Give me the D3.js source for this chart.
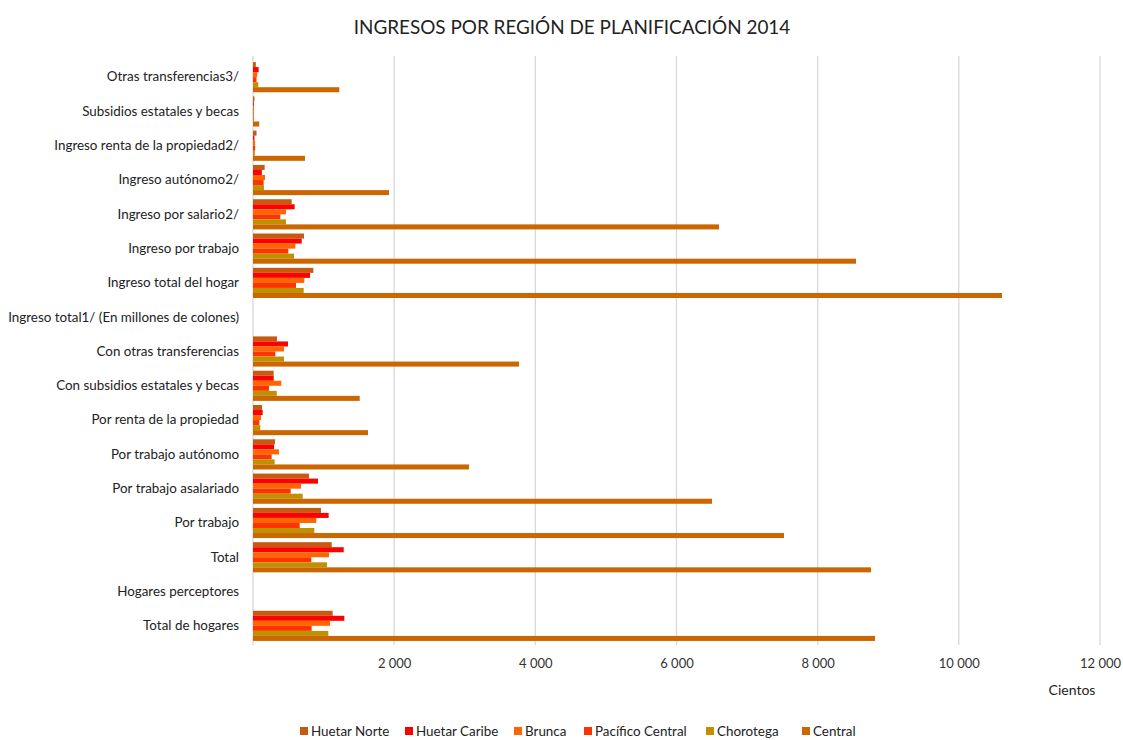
<!DOCTYPE html>
<html>
<head>
<meta charset="utf-8">
<script src="https://cdn.jsdelivr.net/npm/d3@7"></script>
<style>
  body { margin: 0; background: #fff; }
  svg text { font-family: Lato, "Open Sans", sans-serif; fill: #222; }
</style>
</head>
<body>
<svg id="chart" width="1123" height="740"></svg>
<script>
// Categories, top to bottom
const categories = [
  "Otras transferencias3/",
  "Subsidios estatales y becas",
  "Ingreso renta de la propiedad2/",
  "Ingreso autónomo2/",
  "Ingreso por salario2/",
  "Ingreso por trabajo",
  "Ingreso total del hogar",
  "Ingreso total1/ (En millones de colones)",
  "Con otras transferencias",
  "Con subsidios estatales y becas",
  "Por renta de la propiedad",
  "Por trabajo autónomo",
  "Por trabajo asalariado",
  "Por trabajo",
  "Total",
  "Hogares perceptores",
  "Total de hogares"
];
const seriesNames = ["Huetar Norte", "Huetar Caribe", "Brunca", "Pacífico Central", "Chorotega", "Central"];
const seriesColors = ["#C55A11", "#FF0000", "#FF6600", "#FF3300", "#BF9000", "#CC6600"];

// Values (cientos), same order as categories
const huetarNorte     = [40, 20, 50, 165, 548, 723, 855, null, 340, 293, 128, 312, 793, 963, 1115, null, 1129];
const huetarCaribe    = [80, 12, 20, 125, 590, 690, 808, null, 496, 293, 137, 298, 921, 1072, 1285, null, 1294];
const brunca          = [60, 15, 30, 170, 468, 600, 727, null, 439, 401, 113, 368, 680, 897, 1077, null, 1091];
const pacificoCentral = [50, 10, 30, 150, 387, 500, 609, null, 316, 227, 90, 264, 534, 661, 826, null, 831];
const chorotega       = [75, 15, 25, 155, 468, 581, 718, null, 439, 336, 104, 307, 704, 869, 1048, null, 1067];
const central         = [1223, 88, 737, 1927, 6602, 8543, 10612, null, 3769, 1512, 1629, 3060, 6503, 7523, 8756, null, 8813];
const seriesValues = [huetarNorte, huetarCaribe, brunca, pacificoCentral, chorotega, central];

const xTicks = [2000, 4000, 6000, 8000, 10000, 12000];

const svg = d3.select("#chart");
const margin = { left: 253, right: 23, top: 60, bottom: 97 };
const W = 1123, H = 740;
const x = d3.scaleLinear().domain([0, 12000]).range([margin.left, W - margin.right]);
const y = d3.scaleBand().domain(categories).range([margin.top, H - margin.bottom]).paddingInner(0.12).paddingOuter(0.06);
const y1 = d3.scaleBand().domain(seriesNames).range([0, y.bandwidth()]);

const fmt = v => d3.format(",")(v).replace(/,/g, " ");

// Title
svg.append("text").attr("x", 572).attr("y", 34).attr("text-anchor", "middle")
  .style("font-size", "18.9px").text("INGRESOS POR REGIÓN DE PLANIFICACIÓN 2014");

// Gridlines
svg.append("g").selectAll("line").data([0].concat(xTicks)).join("line")
  .attr("x1", d => x(d)).attr("x2", d => x(d))
  .attr("y1", margin.top - 4).attr("y2", H - margin.bottom + 2)
  .attr("stroke", "#d9d9d9").attr("stroke-width", 1.3);

// X axis labels
const xAxis = d3.axisBottom(x).tickValues(xTicks).tickSize(0).tickFormat(fmt);
const gx = svg.append("g").attr("transform", `translate(0, ${H - margin.bottom + 13})`).call(xAxis);
gx.select(".domain").remove();
gx.selectAll("text").style("font-size", "13px").style("fill", "#333")
  .style("font-family", "Lato, sans-serif");

// Y axis labels
const yAxis = d3.axisLeft(y).tickSize(0).tickPadding(14);
const gy = svg.append("g").attr("transform", `translate(${margin.left}, 0)`).call(yAxis);
gy.select(".domain").remove();
gy.selectAll("text").style("font-size", "13.4px").style("fill", "#222")
  .style("font-family", "Lato, sans-serif");

// Bars
const groups = svg.append("g").selectAll("g").data(categories).join("g")
  .attr("transform", d => `translate(0, ${y(d)})`);
groups.each(function(cat, ci) {
  const rows = seriesNames.map((s, si) => ({ s, si, v: seriesValues[si][ci] })).filter(r => r.v != null);
  d3.select(this).selectAll("rect").data(rows).join("rect")
    .attr("x", x(0))
    .attr("y", r => y1(r.s))
    .attr("width", r => x(r.v) - x(0))
    .attr("height", y1.bandwidth())
    .attr("fill", r => seriesColors[r.si]);
});

// Axis unit label
svg.append("text").attr("x", 1072).attr("y", 695).attr("text-anchor", "middle")
  .style("font-size", "14px").text("Cientos");

// Legend
const legendX = [300, 405, 514, 584, 706, 802];
const lg = svg.append("g").selectAll("g").data(seriesNames).join("g")
  .attr("transform", (d, i) => `translate(${legendX[i]}, 727)`);
lg.append("rect").attr("width", 8).attr("height", 8).attr("fill", (d, i) => seriesColors[i]);
lg.append("text").attr("x", 11).attr("y", 9).style("font-size", "13.4px").text(d => d);
</script>
</body>
</html>
